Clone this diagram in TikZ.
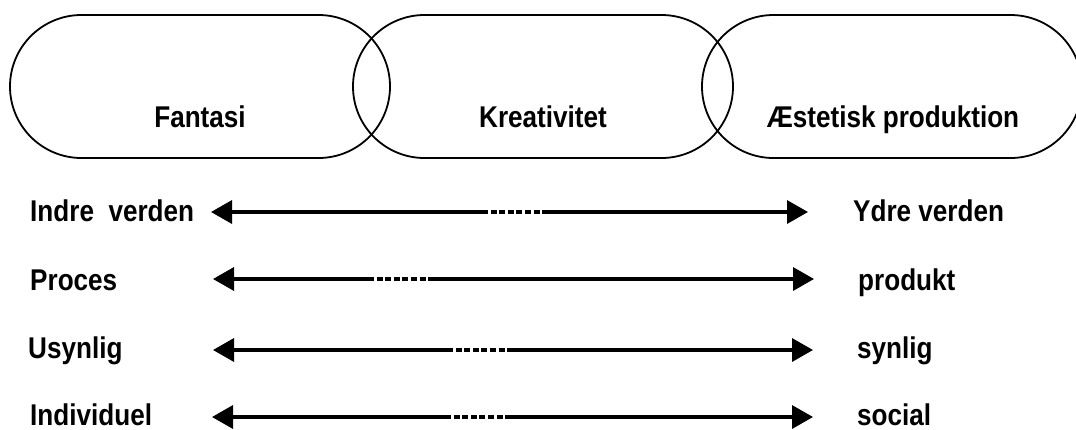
\documentclass[tikz,border=0pt]{standalone}
\usepackage{fontspec}
\newfontfamily\lbl[FakeStretch=0.87]{Liberation Sans}
\usetikzlibrary{shapes.misc,arrows.meta}
\begin{document}
\begin{tikzpicture}[x=1pt,y=-1pt,
  txt/.style={font=\lbl\bfseries\fontsize{30}{36}\selectfont, inner sep=0pt, anchor=base west},
  ctxt/.style={font=\lbl\bfseries\fontsize{30}{36}\selectfont, inner sep=0pt, anchor=base},
  blob/.style={draw, line width=1.8pt, rounded rectangle, minimum width=380pt, minimum height=143pt, inner sep=0pt},
  conn/.style={line width=3.4pt},
  ltip/.style={{Triangle[length=21pt,width=23pt,sep=4pt]}-},
  rtip/.style={-{Triangle[length=21pt,width=23pt,sep=4pt]}},
  dots/.style={line width=3.4pt, dash pattern=on 6pt off 2.6pt}
]
\useasboundingbox (0,0) rectangle (1076,429);
% shapes
\node[blob] (b1) at (200,86.5) {};
\node[blob] (b2) at (543,86.5) {};
\node[blob] (b3) at (892,86.5) {};
\node[ctxt] (t1) at (200,127) {Fantasi};
\node[ctxt] (t2) at (543,127) {Kreativitet};
\node[ctxt] (t3) at (893,127) {Æstetisk produktion};
% labels
\node[txt] (L1) at (30,221) {Indre\ \ verden};
\node[txt] (L2) at (30,290) {Proces};
\node[txt] (L3) at (28,358) {Usynlig};
\node[txt,text depth=0pt] (L4) at (30,425) {Individuel};
\node[txt] (R1) at (853,221) {Ydre verden};
\node[txt] (R2) at (858,290) {produkt};
\node[txt] (R3) at (857,358) {synlig};
\node[txt,text depth=0pt] (R4) at (857,425) {social};
% row 1
\coordinate (l1) at (207,212); \coordinate (a1) at (482,212);
\coordinate (b1e) at (542,212); \coordinate (r1) at (812,212);
\draw[conn,ltip] (l1) -- (a1);
\draw[dots] (a1) -- (b1e);
\draw[conn,rtip] (b1e) -- (r1);
% row 2
\coordinate (l2) at (209,279); \coordinate (a2) at (368,279);
\coordinate (b2e) at (428,279); \coordinate (r2) at (818,279);
\draw[conn,ltip] (l2) -- (a2);
\draw[dots] (a2) -- (b2e);
\draw[conn,rtip] (b2e) -- (r2);
% row 3
\coordinate (l3) at (209,350); \coordinate (a3) at (447,350);
\coordinate (b3e) at (507,350); \coordinate (r3) at (817,350);
\draw[conn,ltip] (l3) -- (a3);
\draw[dots] (a3) -- (b3e);
\draw[conn,rtip] (b3e) -- (r3);
% row 4
\coordinate (l4) at (208,417); \coordinate (a4) at (445,417);
\coordinate (b4e) at (505,417); \coordinate (r4) at (817,417);
\draw[conn,ltip] (l4) -- (a4);
\draw[dots] (a4) -- (b4e);
\draw[conn,rtip] (b4e) -- (r4);
\end{tikzpicture}
\end{document}
